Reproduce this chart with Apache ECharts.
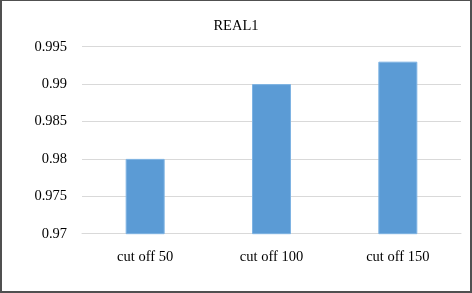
<!DOCTYPE html>
<html>
<head>
<meta charset="utf-8">
<script src="https://cdn.jsdelivr.net/npm/echarts@6/dist/echarts.min.js"></script>
<style>
html,body{margin:0;padding:0;background:#fff;}
#wrap{position:relative;width:472px;height:293px;}
#chart{position:absolute;left:0;top:0;width:472px;height:293px;}
#frame{position:absolute;left:0;top:0;width:472px;height:293px;box-sizing:border-box;border-style:solid;border-color:#505050;border-width:1px 2px 2px 2px;pointer-events:none;}
</style>
</head>
<body>
<div id="wrap"><div id="chart"></div><div id="frame"></div></div>
<script>
const categories = ['cut off 50', 'cut off 100', 'cut off 150'];
const values = [0.98, 0.99, 0.993];
const yTicks = [0.97, 0.975, 0.98, 0.985, 0.99, 0.995];
const titleText = 'REAL1';

const chart = echarts.init(document.getElementById('chart'), null, {renderer: 'canvas'});
const font = '"Liberation Serif", "Times New Roman", serif';
chart.setOption({
  animation: false,
  backgroundColor: '#fff',
  title: {
    text: titleText,
    left: 'center',
    top: 14,
    textStyle: {fontFamily: font, fontSize: 14.5, fontWeight: 'normal', color: '#000'}
  },
  grid: {left: 82, right: 11, top: 46.7, bottom: 59.3, containLabel: false},
  xAxis: {
    type: 'category',
    data: categories,
    axisLine: {show: true, lineStyle: {color: '#d9d9d9', width: 1}},
    axisTick: {show: false},
    axisLabel: {fontFamily: font, fontSize: 14.5, color: '#000', margin: 16}
  },
  yAxis: {
    type: 'value',
    min: yTicks[0],
    max: yTicks[yTicks.length - 1],
    interval: 0.005,
    axisLine: {show: false},
    axisTick: {show: false},
    splitLine: {lineStyle: {color: '#d9d9d9', width: 1}},
    axisLabel: {fontFamily: font, fontSize: 14.5, color: '#000', margin: 15,
      formatter: v => String(parseFloat(v.toFixed(3)))}
  },
  series: [{
    type: 'bar',
    data: values,
    barWidth: 39,
    itemStyle: {color: '#5B9BD5', borderColor: '#7eb3e3', borderWidth: 1}
  }]
});
</script>
</body>
</html>
